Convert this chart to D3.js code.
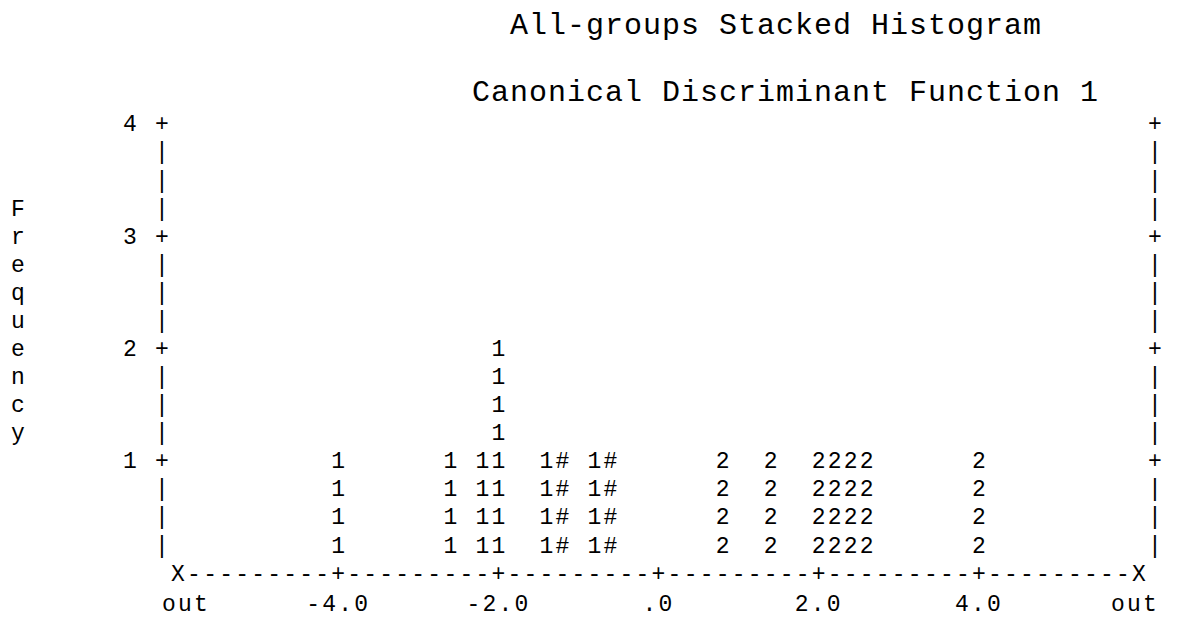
<!DOCTYPE html>
<html>
<head>
<meta charset="utf-8">
<script src="https://cdn.jsdelivr.net/npm/d3@7"></script>
<style>
  body { margin: 0; background: #fff; }
  text { font-family: "Liberation Mono", "DejaVu Sans Mono", monospace; fill: #000; }
</style>
</head>
<body>
<div id="chart"></div>
<script>
// Histogram bins (centre of each character column that has cases)
const binCenters = [-4.0, -2.6, -2.2, -2.0, -1.4, -1.2, -0.8, -0.6, 0.8, 1.4, 2.0, 2.2, 2.4, 2.6, 4.0];
const binSymbols = ["1", "1", "1", "1", "1", "#", "1", "#", "2", "2", "2", "2", "2", "2", "2"];
const binFreqs   = [1, 1, 1, 2, 1, 1, 1, 1, 1, 1, 1, 1, 1, 1, 1];

const yTicks = [1, 2, 3, 4];
const xTickValues = [-6, -4, -2, 0, 2, 4, 6];
const xTickLabels = ["out", "-4.0", "-2.0", ".0", "2.0", "4.0", "out"];
const yTitle = "Frequency";
const title1 = "All-groups Stacked Histogram";
const title2 = "Canonical Discriminant Function 1";

const width = 1185, height = 619;
const step = 0.2;        // one character column on the x axis
const rowsPerUnit = 4;   // four character rows per frequency unit
const fs = 23;           // grid font size

const x = d3.scaleLinear().domain([-6, 6]).range([178, 1139]);
const y = d3.scaleLinear().domain([0, 4]).range([573, 123.8]);
const colW = x(step) - x(0);

const svg = d3.select("#chart")
  .append("svg")
    .attr("width", width)
    .attr("height", height);

svg.append("rect").attr("width", width).attr("height", height).attr("fill", "#fff");

// put one character centred on (cx, cy)
function glyph(g, ch, cx, cy) {
  g.append("text")
    .attr("x", cx)
    .attr("y", cy)
    .attr("dy", "0.33em")
    .attr("text-anchor", "middle")
    .style("font-size", fs + "px")
    .text(ch);
}

// titles
svg.append("text")
  .attr("x", 510).attr("y", 34)
  .style("font-size", "30px").style("letter-spacing", "1px")
  .text(title1);
svg.append("text")
  .attr("x", 472).attr("y", 101)
  .style("font-size", "30px").style("letter-spacing", "1px")
  .text(title2);

// frame: left and right borders made of + and |
const frame = svg.append("g").attr("class", "frame");
const rowLevels = d3.range(1, 4 * rowsPerUnit + 1).map(k => k / rowsPerUnit);
rowLevels.forEach(f => {
  const ch = Number.isInteger(f) ? "+" : "|";
  glyph(frame, ch, x(-6) - colW, y(f));
  glyph(frame, ch, x(6) + colW, y(f));
});

// y tick labels
const yAxis = svg.append("g").attr("class", "y-axis");
yTicks.forEach(t => glyph(yAxis, String(t), x(-6) - 3 * colW, y(t)));

// vertical y title, one letter per row
const yt = svg.append("g").attr("class", "y-title");
yTitle.split("").forEach((ch, i) => glyph(yt, ch, 18, y(3.25 - i / rowsPerUnit)));

// x axis line: X at the out ends, + on ticks, - elsewhere
const xAxis = svg.append("g").attr("class", "x-axis");
const nCols = Math.round(12 / step);
d3.range(0, nCols + 1).forEach(i => {
  const v = -6 + i * step;
  const ch = (i === 0 || i === nCols) ? "X" : (i % 10 === 0 ? "+" : "-");
  glyph(xAxis, ch, x(v), y(0));
});

// x tick labels (letter-spacing pads the end, so nudge by half of it)
const ls = colW - fs * 0.6;
xTickValues.forEach((v, i) => {
  const shift = i === 0 ? 7 : (i === xTickValues.length - 1 ? -5 : -1);
  xAxis.append("text")
    .attr("x", x(v) + shift + ls / 2)
    .attr("y", y(0) + 30)
    .attr("dy", "0.33em")
    .attr("text-anchor", "middle")
    .style("font-size", fs + "px")
    .style("letter-spacing", ls + "px")
    .text(xTickLabels[i]);
});

// stacked symbols: four rows per case
const bars = svg.append("g").attr("class", "bars");
binCenters.forEach((c, i) => {
  d3.range(1, binFreqs[i] * rowsPerUnit + 1).forEach(k => {
    glyph(bars, binSymbols[i], x(c), y(k / rowsPerUnit));
  });
});
</script>
</body>
</html>
